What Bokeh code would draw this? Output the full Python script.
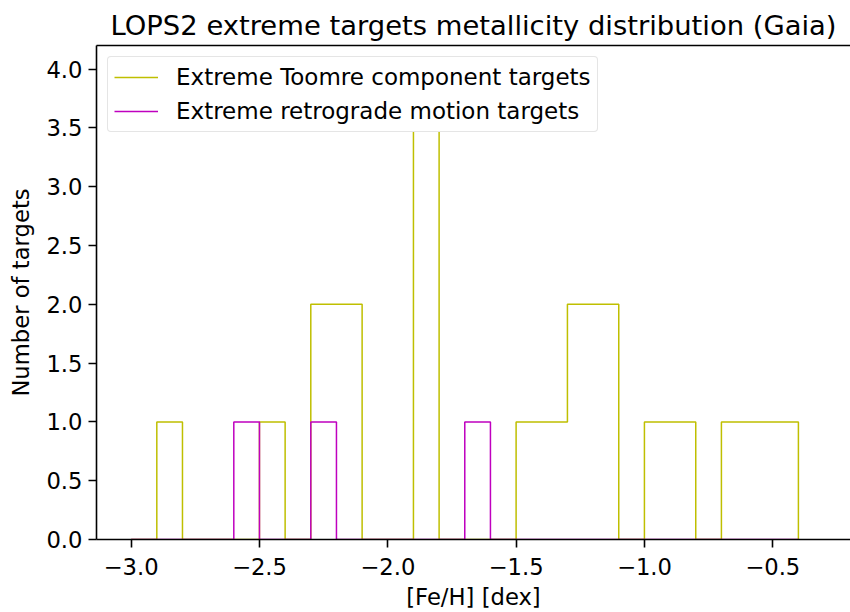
from bokeh.plotting import figure
from bokeh.models import Range1d, CustomJSTickFormatter, FixedTicker, Legend, LegendItem, LinearAxis
from bokeh.embed import file_html
from bokeh.resources import INLINE

# Histogram bin edges (width 0.1 dex) and counts
bin_edges = [round(-3.0 + 0.1 * i, 1) for i in range(27)]
toomre_counts = [0, 1, 0, 0, 0, 1, 0, 2, 2, 0, 0, 4, 0, 0, 0, 1, 1, 2, 2, 0, 1, 1, 0, 1, 1, 1]
retro_counts = [0, 0, 0, 0, 1, 0, 0, 1, 0, 0, 0, 0, 0, 1, 0, 0, 0, 0, 0, 0, 0, 0, 0, 0, 0, 0]
x_ticks = [-3.0, -2.5, -2.0, -1.5, -1.0, -0.5]
y_ticks = [0.0, 0.5, 1.0, 1.5, 2.0, 2.5, 3.0, 3.5, 4.0]

series_labels = ["Extreme Toomre component targets", "Extreme retrograde motion targets"]
series_colors = ["#bfbf00", "#bf00bf"]

FONT = "DejaVu Sans"


def step_outline(edges, counts):
    xs, ys = [], []
    prev = 0
    for i, c in enumerate(counts):
        xs += [edges[i], edges[i]]
        ys += [prev, c]
        prev = c
    xs += [edges[len(counts)]]
    ys += [prev]
    xs += [edges[len(counts)]]
    ys += [0]
    return xs, ys


p = figure(width=850, height=612, output_backend="svg", toolbar_location=None,
           x_range=Range1d(-3.135, -0.197), y_range=Range1d(0, 4.2),
           min_border_left=96, min_border_right=0, min_border_top=45, min_border_bottom=72,
           title="LOPS2 extreme targets metallicity distribution (Gaia)")

p.title.text_font = FONT
p.title.text_font_size = "27.4px"
p.title.text_font_style = "normal"
p.title.align = "center"
p.title.text_color = "black"
p.title.standoff = 9
p.title.offset = 3

p.xgrid.visible = False
p.ygrid.visible = False
p.outline_line_color = None
p.background_fill_color = "white"
p.border_fill_color = "white"

fmt = CustomJSTickFormatter(code="return (tick < -1e-9 ? '\u2212' : '') + Math.abs(tick).toFixed(1);")

for ax, ticks, label in ((p.xaxis[0], x_ticks, "[Fe/H] [dex]"), (p.yaxis[0], y_ticks, "Number of targets")):
    ax.ticker = FixedTicker(ticks=ticks)
    ax.formatter = fmt
    ax.axis_label = label
    ax.axis_label_text_font = FONT
    ax.axis_label_text_font_size = "22.7px"
    ax.axis_label_text_font_style = "normal"
    ax.axis_label_text_color = "black"
    ax.major_label_text_font = FONT
    ax.major_label_text_font_size = "22.7px"
    ax.major_label_text_color = "black"
    ax.major_tick_out = 8
    ax.major_tick_in = 0
    ax.major_tick_line_width = 1.6
    ax.major_tick_line_color = "black"
    ax.minor_tick_out = 0
    ax.minor_tick_in = 0
    ax.axis_line_color = "black"
    ax.axis_line_width = 1.6

p.xaxis.major_label_standoff = 10
p.xaxis.axis_label_standoff = 6
p.yaxis.major_label_standoff = 6
p.yaxis.axis_label_standoff = 9

# top spine only (right spine lies outside the picture)
top = LinearAxis(ticker=FixedTicker(ticks=[]), major_label_text_color=None,
                 major_tick_out=0, major_tick_in=0, minor_tick_out=0, minor_tick_in=0,
                 axis_line_color="black", axis_line_width=1.6,
                 major_label_standoff=0, axis_label_standoff=0)
p.add_layout(top, "above")

renderers = []
for counts, color in ((toomre_counts, series_colors[0]), (retro_counts, series_colors[1])):
    xs, ys = step_outline(bin_edges, counts)
    r = p.line(xs, ys, line_color=color, line_width=1.5)
    renderers.append(r)

legend = Legend(items=[LegendItem(label=series_labels[i], renderers=[renderers[i]]) for i in range(2)],
                location="top_left")
legend.label_text_font = FONT
legend.label_text_font_size = "23px"
legend.label_text_color = "black"
legend.glyph_width = 44
legend.glyph_height = 28
legend.label_height = 28
legend.label_standoff = 18
legend.spacing = 6
legend.padding = 6
legend.margin = 11
legend.border_line_color = "#cccccc"
legend.border_line_width = 1.5
legend.border_radius = 4
legend.background_fill_alpha = 1.0
p.add_layout(legend, "center")

open("out.html", "w").write(file_html(p, INLINE))
